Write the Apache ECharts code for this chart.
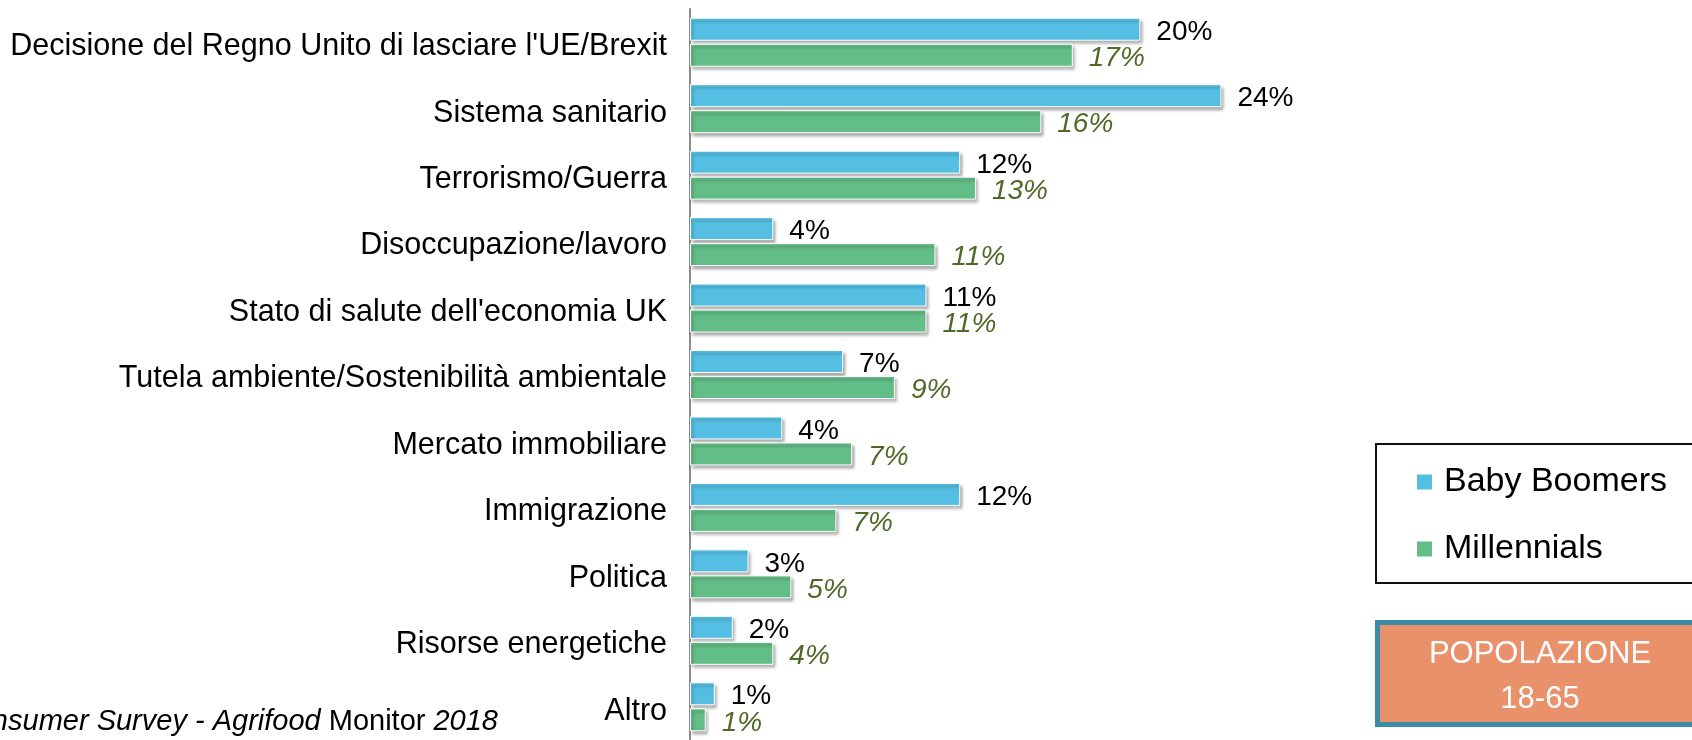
<!DOCTYPE html>
<html>
<head>
<meta charset="utf-8">
<script src="https://cdn.jsdelivr.net/npm/echarts@6/dist/echarts.min.js"></script>
<style>
html, body { margin: 0; padding: 0; background: #fff; }
#chart { width: 1692px; height: 740px; }
</style>
</head>
<body>
<div id="chart"></div>
<script>
// categorie dall'alto in basso
var categorie = [
  "Decisione del Regno Unito di lasciare l'UE/Brexit",
  'Sistema sanitario',
  'Terrorismo/Guerra',
  'Disoccupazione/lavoro',
  "Stato di salute dell'economia UK",
  'Tutela ambiente/Sostenibilità ambientale',
  'Mercato immobiliare',
  'Immigrazione',
  'Politica',
  'Risorse energetiche',
  'Altro'
]
var serieNomi = ['Baby Boomers', 'Millennials']
var babyBoomers = [20.0, 23.6, 12.0, 3.7, 10.5, 6.8, 4.1, 12.0, 2.6, 1.9, 1.1]
var millennials = [17.0, 15.6, 12.7, 10.9, 10.5, 9.1, 7.2, 6.5, 4.5, 3.7, 0.7]

var font = 'Liberation Sans, Arial, sans-serif'
var myChart = echarts.init(document.getElementById('chart'), null, { renderer: 'canvas' })

function pct (p) { return Math.round(p.value) + '%' }

var barStyle = function (color) {
  return {
    color: color,
    borderColor: '#ffffff',
    borderWidth: 1,
    shadowColor: 'rgba(0,0,0,0.35)',
    shadowBlur: 3,
    shadowOffsetX: 2,
    shadowOffsetY: 3
  }
}

var option = {
  animation: false,
  backgroundColor: '#ffffff',
  grid: { left: 690, right: 0, top: 9, height: 735 },
  xAxis: {
    type: 'value',
    min: 0,
    max: 44.5,
    axisLine: { show: false },
    axisTick: { show: false },
    axisLabel: { show: false },
    splitLine: { show: false }
  },
  yAxis: {
    type: 'category',
    inverse: true,
    data: categorie,
    axisLine: { lineStyle: { color: '#8c8c8c', width: 2 } },
    axisTick: { length: 10, lineStyle: { color: '#8c8c8c', width: 2 } },
    axisLabel: {
      margin: 23,
      formatter: function (v) { return '{a|' + v + '}' },
      rich: {
        a: { fontSize: 30.5, color: '#000', fontFamily: font, padding: [9, 0, 0, 0] }
      }
    }
  },
  legend: {
    data: serieNomi,
    orient: 'vertical',
    left: 1410,
    top: 457,
    icon: 'rect',
    itemWidth: 17,
    itemHeight: 17,
    itemGap: 27,
    textStyle: { fontSize: 34, lineHeight: 40, color: '#000', fontFamily: font, padding: [0, 0, 0, 6] }
  },
  series: [
    {
      name: serieNomi[0],
      type: 'bar',
      data: babyBoomers,
      barWidth: 23,
      barGap: '13%',
      itemStyle: barStyle('#55bfe3'),
      label: {
        show: true, position: 'right', distance: 16, offset: [0, 3], formatter: pct,
        fontSize: 28, color: '#000', fontFamily: font
      }
    },
    {
      name: serieNomi[1],
      type: 'bar',
      data: millennials,
      barWidth: 23,
      barGap: '13%',
      itemStyle: barStyle('#63bd87'),
      label: {
        show: true, position: 'right', distance: 16, offset: [0, 3], formatter: pct,
        fontSize: 28, fontStyle: 'italic', color: '#4f6a28', fontFamily: font
      }
    }
  ],
  graphic: [
    // cornice legenda
    {
      type: 'rect', left: 1375, top: 443, z: 0,
      shape: { width: 400, height: 139 },
      style: { fill: '#fff', stroke: '#111', lineWidth: 2 }
    },
    // riquadro popolazione
    {
      type: 'rect', left: 1375, top: 620,
      shape: { width: 400, height: 102 },
      style: { fill: '#e8916a', stroke: '#3b8ca6', lineWidth: 5 }
    },
    {
      type: 'text', x: 1540, y: 677,
      style: {
        text: 'POPOLAZIONE\n18-65', align: 'center', verticalAlign: 'middle',
        fontSize: 31, lineHeight: 45, fill: '#fff', fontFamily: font
      }
    },
    // fonte
    {
      type: 'text', x: 498, y: 722,
      style: {
        text: '{i|Consumer Survey - Agrifood }{n|Monitor }{i|2018}',
        align: 'right', verticalAlign: 'middle',
        rich: {
          i: { fontSize: 29, fontStyle: 'italic', fill: '#000', fontFamily: font },
          n: { fontSize: 29, fill: '#000', fontFamily: font }
        }
      }
    }
  ]
}

myChart.setOption(option)
</script>
</body>
</html>
